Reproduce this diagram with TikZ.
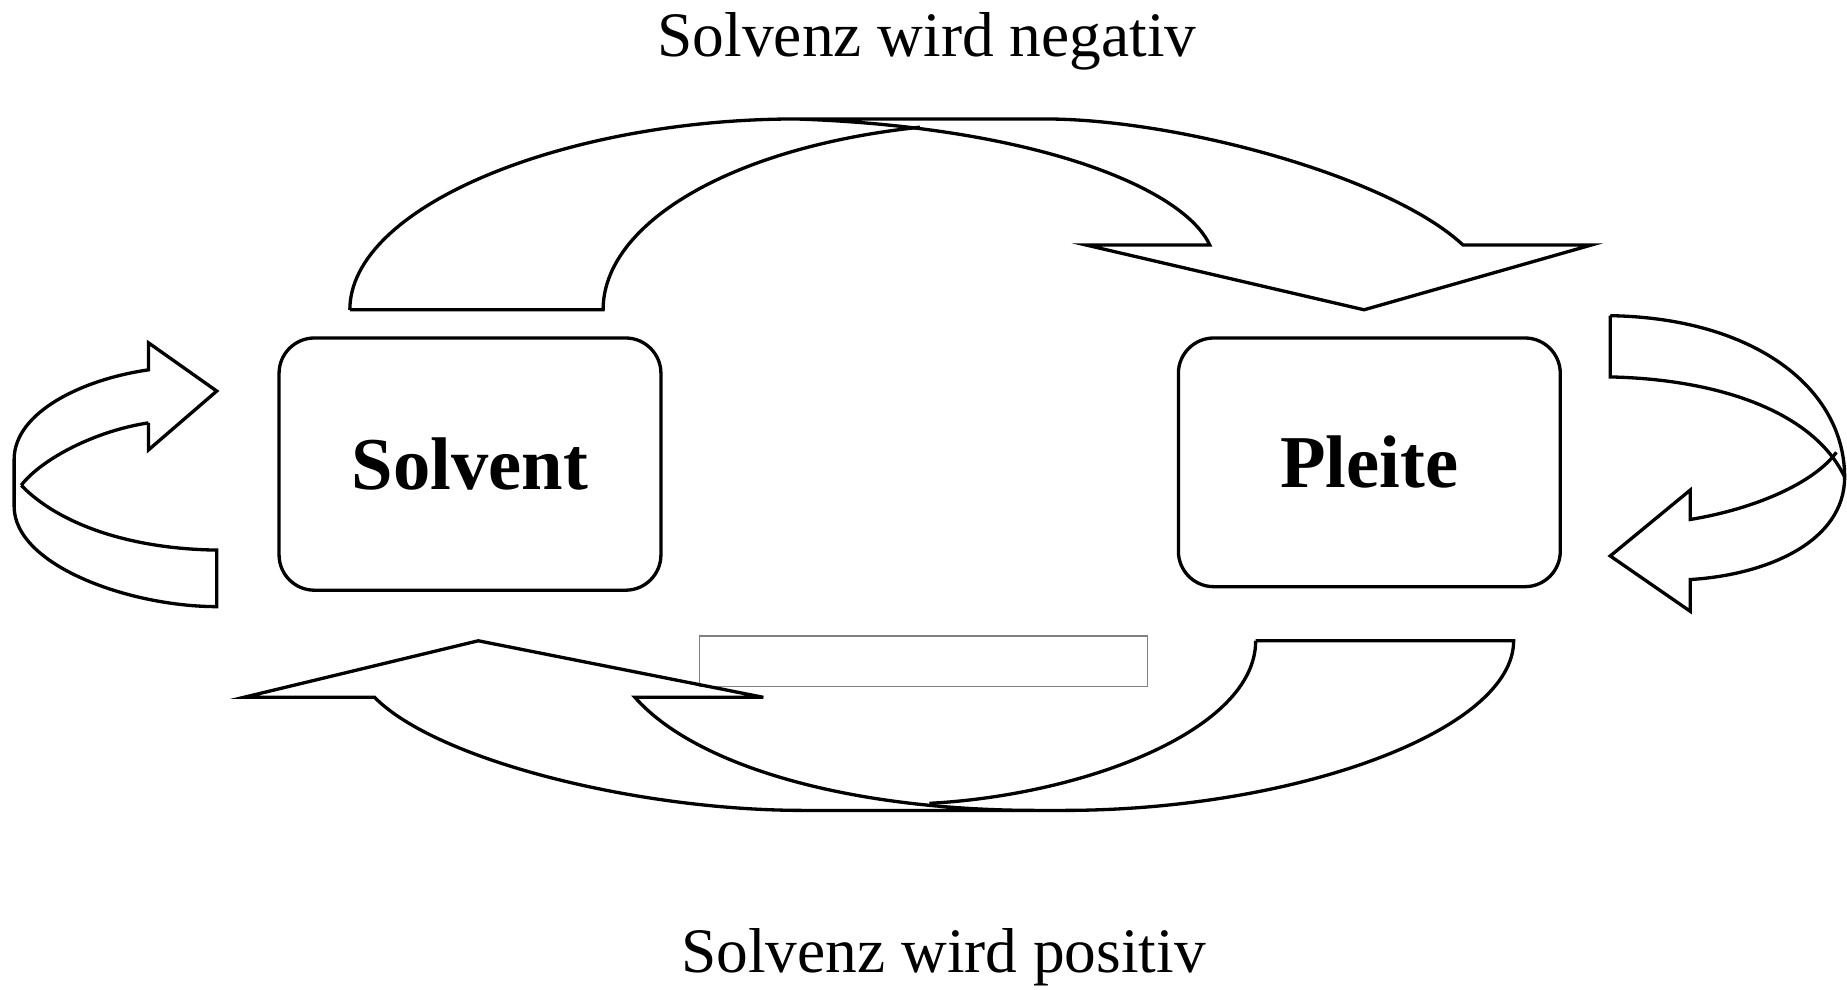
\documentclass[tikz,border=0pt]{standalone}
\usepackage{fontspec}
\setmainfont{Liberation Serif}

\begin{document}
\begin{tikzpicture}[x=0.01cm,y=-0.01cm,line width=0.8pt,line join=miter,
	zustand/.style={draw,rounded corners=0.3cm,minimum width=3.24cm,minimum height=2.14cm,font=\fontsize{18}{20}\selectfont\bfseries},
	titel/.style={anchor=base,font=\fontsize{15.3}{18}\selectfont}]
				\useasboundingbox (0,0) rectangle (1568,840);

				\node[titel] (neg) at (787,48) {Solvenz wird negativ};
				\node[titel] (pos) at (801,826) {Solvenz wird positiv};

				\node[zustand] (solvent) at (399,394) {Solvent};
				\node[zustand,minimum height=2.11cm] (pleite) at (1162.5,392.5) {Pleite};

				\node[draw=gray,line width=0.3pt,inner sep=0pt,minimum width=3.8cm,minimum height=0.43cm] (leer) at (784,561.5) {};

				% oben: solvent -> pleite
				\draw (297,263) .. controls (297,175) and (480,101) .. (676,101) -- (887,101)
					.. controls (1000,101) and (1180,150) .. (1242,208) -- (1351,208) -- (1158,263) -- (922,208) -- (1027,208)
					.. controls (1005,160) and (880,108) .. (676,101);
				\draw (297,263) -- (512,263) .. controls (512,190) and (620,125) .. (781,108);

				% unten: pleite -> solvent
				\draw (1066,544) -- (1285,544) .. controls (1285,620) and (1100,688) .. (903,688) -- (682,688)
					.. controls (540,688) and (370,645) .. (318,592) -- (207,592) -- (406,544) -- (648,592) -- (539,592)
					.. controls (590,650) and (720,688) .. (880,688);
				\draw (1066,544) .. controls (1066,620) and (920,675) .. (789,682);

				% links: solvent bleibt solvent
				\draw (126,359) -- (126,382) -- (184,332) -- (126,291) -- (126,314)
					.. controls (70,322) and (12,350) .. (12,390) -- (12,430)
					.. controls (12,480) and (110,515) .. (184,515) -- (184,467)
					.. controls (110,466) and (50,445) .. (18,412);
				\draw (126,359) .. controls (80,366) and (35,390) .. (18,412);

				% rechts: pleite bleibt pleite
				\draw (1367,268) -- (1367,320) .. controls (1460,322) and (1540,350) .. (1566,405);
				\draw (1367,268) .. controls (1490,270) and (1566,330) .. (1566,405)
					.. controls (1566,460) and (1500,488) .. (1435,492) -- (1435,519) -- (1367,472) -- (1435,416) -- (1435,441)
					.. controls (1490,432) and (1540,410) .. (1559,384);
			\end{tikzpicture}
\end{document}
